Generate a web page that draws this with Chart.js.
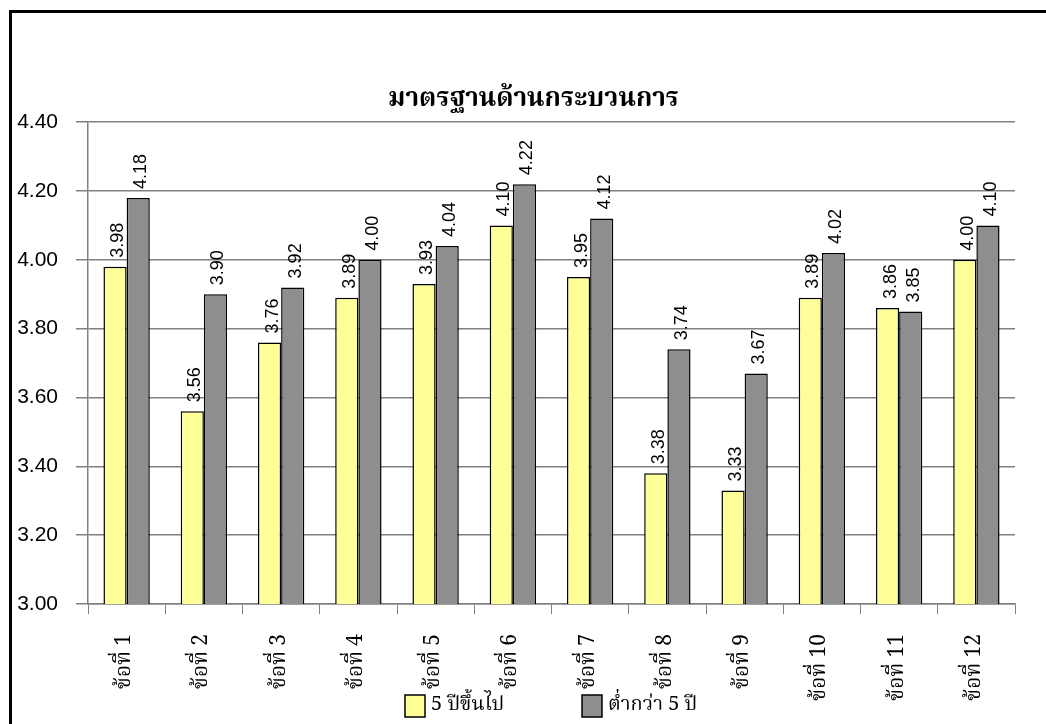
<!DOCTYPE html>
<html>
<head>
<meta charset="utf-8">
<script src="https://cdn.jsdelivr.net/npm/chart.js@4"></script>
<style>
  html, body { margin: 0; padding: 0; background: #fff; overflow: hidden; }
  #box { position: absolute; left: 9px; top: 10px; width: 1060px; height: 730px; border-left: 3px solid #000; border-top: 3px solid #000; box-sizing: border-box; }
  #wrap { position: absolute; left: 12px; top: 13px; width: 1034px; height: 711px; }
</style>
</head>
<body>
<div id="box"></div>
<div id="wrap"><canvas id="c"></canvas></div>
<script>
const categories = ['ข้อที่ 1','ข้อที่ 2','ข้อที่ 3','ข้อที่ 4','ข้อที่ 5','ข้อที่ 6','ข้อที่ 7','ข้อที่ 8','ข้อที่ 9','ข้อที่ 10','ข้อที่ 11','ข้อที่ 12'];
const seriesNames = ['5 ปีขึ้นไป', 'ต่ำกว่า 5 ปี'];
const over5 = [3.98, 3.56, 3.76, 3.89, 3.93, 4.10, 3.95, 3.38, 3.33, 3.89, 3.86, 4.00];
const under5 = [4.18, 3.90, 3.92, 4.00, 4.04, 4.22, 4.12, 3.74, 3.67, 4.02, 3.85, 4.10];
const yTicks = [3.00, 3.20, 3.40, 3.60, 3.80, 4.00, 4.20, 4.40];
const titleText = 'มาตรฐานด้านกระบวนการ';

const thaiSerif = "'Noto Serif Thai', 'Liberation Serif', 'DejaVu Serif', serif";
const sans = "'Liberation Sans', Arial, sans-serif";

const valueLabels = {
  id: 'valueLabels',
  afterDatasetsDraw(chart) {
    const ctx = chart.ctx;
    ctx.save();
    ctx.font = '18px ' + sans;
    ctx.fillStyle = '#000';
    ctx.textAlign = 'left';
    ctx.textBaseline = 'middle';
    chart.data.datasets.forEach((ds, di) => {
      const meta = chart.getDatasetMeta(di);
      meta.data.forEach((bar, i) => {
        ctx.save();
        ctx.translate(bar.x + 3, bar.y - 9);
        ctx.rotate(-Math.PI / 2);
        ctx.fillText(ds.data[i].toFixed(2), 0, 0);
        ctx.restore();
      });
    });
    ctx.restore();
  }
};

// Legend drawn from the dataset labels/colours, spaced like the original
const spacedLegend = {
  id: 'spacedLegend',
  afterDraw(chart) {
    const ctx = chart.ctx;
    const ca = chart.chartArea;
    const box = 20, boxH = 22, textGap = 6, pitch = 177;
    ctx.save();
    ctx.font = '20px ' + thaiSerif;
    ctx.textBaseline = 'middle';
    ctx.textAlign = 'left';
    let x = ca.left + 317;
    const y = ca.bottom + 91;
    chart.data.datasets.forEach(ds => {
      ctx.fillStyle = ds.backgroundColor;
      ctx.fillRect(x, y, box, boxH);
      ctx.strokeStyle = '#000';
      ctx.lineWidth = 1.5;
      ctx.strokeRect(x, y, box, boxH);
      ctx.fillStyle = '#000';
      ctx.fillText(ds.label, x + box + textGap, y + boxH / 2 + 1);
      x += pitch;
    });
    ctx.restore();
  }
};

new Chart(document.getElementById('c'), {
  type: 'bar',
  data: {
    labels: categories,
    datasets: [
      { label: seriesNames[0], data: over5, backgroundColor: '#ffff99', borderColor: '#000', borderWidth: 1.5, categoryPercentage: 0.6, barPercentage: 1.0 },
      { label: seriesNames[1], data: under5, backgroundColor: '#8e8e8e', borderColor: '#000', borderWidth: 1.5, categoryPercentage: 0.6, barPercentage: 1.0 }
    ]
  },
  options: {
    responsive: true,
    maintainAspectRatio: false,
    animation: false,
    layout: { padding: { top: 0, right: 31, bottom: 10, left: 40 } },
    plugins: {
      title: { display: true, text: titleText, font: { family: thaiSerif, size: 26, weight: 'bold' }, color: '#000', padding: { top: 73, bottom: 5 } },
      legend: { display: false },
      tooltip: { enabled: false }
    },
    scales: {
      x: {
        afterFit(scale) { scale.height = 110; },
        grid: { display: true, drawOnChartArea: false, color: '#808080', tickLength: 10, offset: true },
        border: { color: '#808080', width: 1.5 },
        ticks: { font: { family: thaiSerif, size: 21 }, color: '#000', maxRotation: 90, minRotation: 90, padding: 20 }
      },
      y: {
        min: 3.0, max: 4.4,
        afterFit(scale) { scale.width = 36; scale._computeLabelArea = () => undefined; },
        afterBuildTicks(scale) { scale.ticks = yTicks.map(v => ({ value: v })); },
        grid: { color: '#808080', lineWidth: 1.5, tickLength: 12 },
        border: { color: '#808080', width: 1.5 },
        ticks: { font: { family: sans, size: 21 }, color: '#000', padding: 18, callback: v => Number(v).toFixed(2) }
      }
    }
  },
  plugins: [valueLabels, spacedLegend]
});
</script>
</body>
</html>
